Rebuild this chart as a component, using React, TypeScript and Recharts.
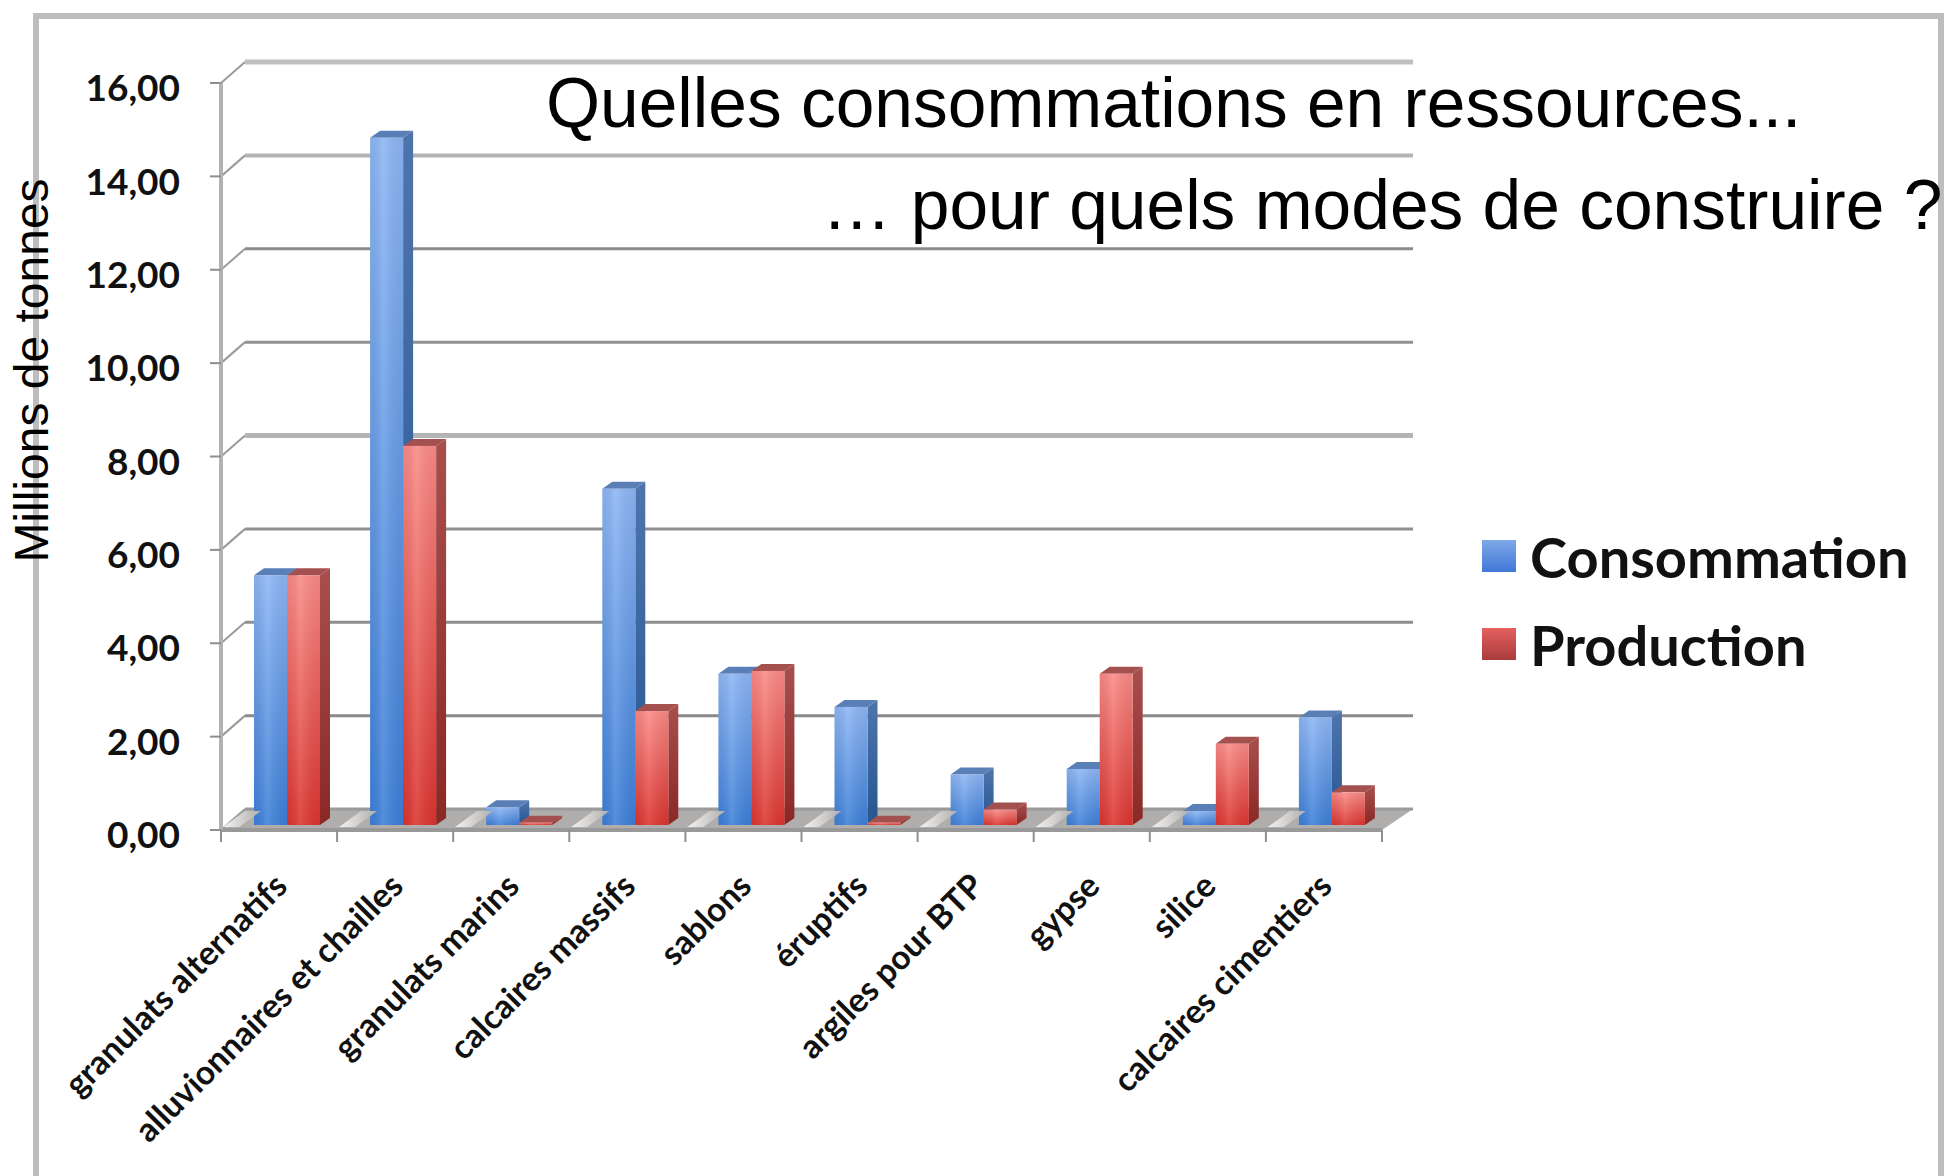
import { BarChart, Bar, XAxis, YAxis, CartesianGrid, Legend } from 'recharts';

const categories = [
  'granulats alternatifs',
  'alluvionnaires et chailles',
  'granulats marins',
  'calcaires massifs',
  'sablons',
  'éruptifs',
  'argiles pour BTP',
  'gypse',
  'silice',
  'calcaires cimentiers',
];
const consommation = [5.35, 14.72, 0.38, 7.2, 3.24, 2.53, 1.08, 1.2, 0.3, 2.3];
const production = [5.35, 8.12, 0.05, 2.44, 3.3, 0.05, 0.33, 3.24, 1.74, 0.7];
const yTicks = [0, 2, 4, 6, 8, 10, 12, 14, 16];
const gridColors = ['#9a9a9a', '#8a8a8a', '#8e8e8e', '#909090', '#b4b4b4', '#929292', '#8a8a8a', '#b4b4b4', '#c0c0c0'];
const gridWidths = [3, 3, 3, 3, 5, 3, 3, 4, 5];

const data = categories.map((name, i) => ({
  name,
  consommation: consommation[i],
  production: production[i],
}));

const W = 1944;
const H = 1176;
const LEFT = 221;
const RIGHT = 1382;
const BAND = (RIGHT - LEFT) / categories.length;
const BACK_DX = 24;
const BACK_DX_RIGHT = 31;
const BACK_DY = 21;
const LABEL_FONT = 'Lato, sans-serif';

function GridLine(props: any) {
  const { x1, x2, y1, index } = props;
  const backY = y1 - BACK_DY;
  return (
    <g>
      {index === 0 && (
        <polygon
          points={`${x1},${y1} ${x2},${y1} ${x2 + BACK_DX_RIGHT},${backY} ${x1 + BACK_DX},${backY}`}
          fill="#b0aeac"
        />
      )}
      <line x1={x1} y1={y1} x2={x1 + BACK_DX} y2={backY} stroke="#9a9a9a" strokeWidth={2} />
      <line
        x1={x1 + BACK_DX}
        y1={backY}
        x2={x2 + BACK_DX_RIGHT}
        y2={backY}
        stroke={gridColors[index]}
        strokeWidth={gridWidths[index]}
      />
    </g>
  );
}

function Box3D(props: any) {
  const { x, y, width, height, kind } = props;
  const dx = 10;
  const dy = 7;
  const px = x + 8;
  const py = y - 5;
  const bottom = py + height;
  return (
    <g>
      <polygon
        points={`${px + width},${py} ${px + width + dx},${py - dy} ${px + width + dx},${bottom - dy} ${px + width},${bottom}`}
        fill={`url(#${kind}Side)`}
      />
      <polygon
        points={`${px},${py} ${px + dx},${py - dy} ${px + width + dx},${py - dy} ${px + width},${py}`}
        fill={kind === 'blue' ? '#5a7fb6' : '#a4504e'}
      />
      <rect x={px} y={py} width={width} height={height} fill={`url(#${kind}Front)`} />
      <rect x={px} y={py} width={width} height={height} fill="url(#sheen)" />
    </g>
  );
}

function CategoryTick(props: any) {
  const { x, y, payload, index } = props;
  const tx = x - BAND / 2;
  const axisY = y - 8;
  const ax = x + 10;
  const ay = axisY + 58;
  return (
    <g>
      <polygon
        points={`${tx + 2},${axisY - 3} ${tx + 18},${axisY - 3} ${tx + 40},${axisY - 19} ${tx + 24},${axisY - 19}`}
        fill="url(#streak)"
      />
      <line x1={tx} y1={axisY} x2={tx} y2={axisY + 12} stroke="#8f8f8f" strokeWidth={2} />
      {index === categories.length - 1 && (
        <line x1={tx + BAND} y1={axisY} x2={tx + BAND} y2={axisY + 12} stroke="#8f8f8f" strokeWidth={2} />
      )}
      <text
        x={ax}
        y={ay}
        textAnchor="end"
        transform={`rotate(-45 ${ax} ${ay})`}
        fontFamily={LABEL_FONT}
        fontWeight={700}
        fontSize={33.5}
        fill="#111"
      >
        {payload.value}
      </text>
    </g>
  );
}

function LegendBox() {
  const rows = [
    { name: 'Consommation', grad: 'linear-gradient(#7fa8e8, #3f78d8)' },
    { name: 'Production', grad: 'linear-gradient(#e5605f, #a83c3c)' },
  ];
  return (
    <div>
      {rows.map((r) => (
        <div key={r.name} style={{ display: 'flex', alignItems: 'center', height: 88 }}>
          <div style={{ width: 34, height: 32, background: r.grad, marginRight: 14 }} />
          <span style={{ fontFamily: LABEL_FONT, fontWeight: 700, fontSize: 56, color: '#111' }}>{r.name}</span>
        </div>
      ))}
    </div>
  );
}

export default function App() {
  return (
    <div style={{ position: 'absolute', left: 0, top: 0, width: W, height: H, overflow: 'hidden', background: '#fff' }}>
      <div
        style={{
          position: 'absolute',
          left: 33,
          top: 13,
          width: W - 33 - 12,
          height: H,
          borderLeft: '6px solid #bdbdbd',
          borderTop: '6px solid #bdbdbd',
          borderRight: '6px solid #bdbdbd',
        }}
      />
      <BarChart
        width={W}
        height={H}
        data={data}
        margin={{ top: 83, right: W - RIGHT, bottom: 0, left: 0 }}
        barSize={33}
        barGap={0}
        style={{ position: 'absolute', left: 0, top: 0 }}
      >
        <defs>
          <linearGradient id="blueFront" x1="0" y1="0" x2="0" y2="1">
            <stop offset="0%" stopColor="#8db6f4" />
            <stop offset="100%" stopColor="#3d7fd8" />
          </linearGradient>
          <linearGradient id="redFront" x1="0" y1="0" x2="0" y2="1">
            <stop offset="0%" stopColor="#fa8a86" />
            <stop offset="100%" stopColor="#dc342f" />
          </linearGradient>
          <linearGradient id="blueSide" x1="0" y1="0" x2="0" y2="1">
            <stop offset="0%" stopColor="#4f74ad" />
            <stop offset="100%" stopColor="#24568f" />
          </linearGradient>
          <linearGradient id="redSide" x1="0" y1="0" x2="0" y2="1">
            <stop offset="0%" stopColor="#a84f4d" />
            <stop offset="100%" stopColor="#8a2825" />
          </linearGradient>
          <linearGradient id="sheen" x1="0" y1="0" x2="1" y2="0">
            <stop offset="0%" stopColor="#000" stopOpacity={0.05} />
            <stop offset="40%" stopColor="#fff" stopOpacity={0.12} />
            <stop offset="100%" stopColor="#000" stopOpacity={0.05} />
          </linearGradient>
          <linearGradient id="streak" x1="0" y1="0" x2="1" y2="0">
            <stop offset="0%" stopColor="#f4f3f2" />
            <stop offset="100%" stopColor="#b0aeac" />
          </linearGradient>
        </defs>
        <CartesianGrid vertical={false} horizontal={(p: any) => <GridLine {...p} />} />
        <XAxis
          dataKey="name"
          interval={0}
          height={H - 830}
          tickLine={false}
          tickMargin={2}
          axisLine={{ stroke: '#999', strokeWidth: 4 }}
          tick={<CategoryTick />}
        />
        <YAxis
          domain={[0, 16]}
          ticks={yTicks}
          width={LEFT}
          tickSize={11}
          tickMargin={30}
          tickLine={{ stroke: '#8f8f8f', strokeWidth: 2 }}
          axisLine={{ stroke: '#b2b2b2', strokeWidth: 4 }}
          tick={{ fontFamily: LABEL_FONT, fontWeight: 700, fontSize: 37, fill: '#111', dy: 5 }}
          tickFormatter={(v: number) => v.toFixed(2).replace('.', ',')}
          label={{
            value: 'Millions de tonnes',
            angle: -90,
            position: 'insideLeft',
            dx: 26,
            dy: -86,
            style: { fontFamily: 'Liberation Sans', fontSize: 48, fill: '#000', textAnchor: 'middle' },
          }}
        />
        <Bar dataKey="consommation" isAnimationActive={false} shape={<Box3D kind="blue" />} />
        <Bar dataKey="production" isAnimationActive={false} shape={<Box3D kind="red" />} />
        <Legend
          layout="vertical"
          content={<LegendBox />}
          wrapperStyle={{ position: 'absolute', left: 1482, top: 512, width: 450, height: 0, overflow: 'visible' }}
        />
      </BarChart>
      <div style={{ position: 'absolute', left: 546, top: 63, fontFamily: 'Liberation Sans', fontSize: 69.5, color: '#000', whiteSpace: 'nowrap' }}>
        Quelles consommations en ressources...
      </div>
      <div style={{ position: 'absolute', left: 822, top: 165, fontFamily: 'Liberation Sans', fontSize: 69.5, color: '#000', whiteSpace: 'nowrap' }}>
        … pour quels modes de construire ?
      </div>
    </div>
  );
}
